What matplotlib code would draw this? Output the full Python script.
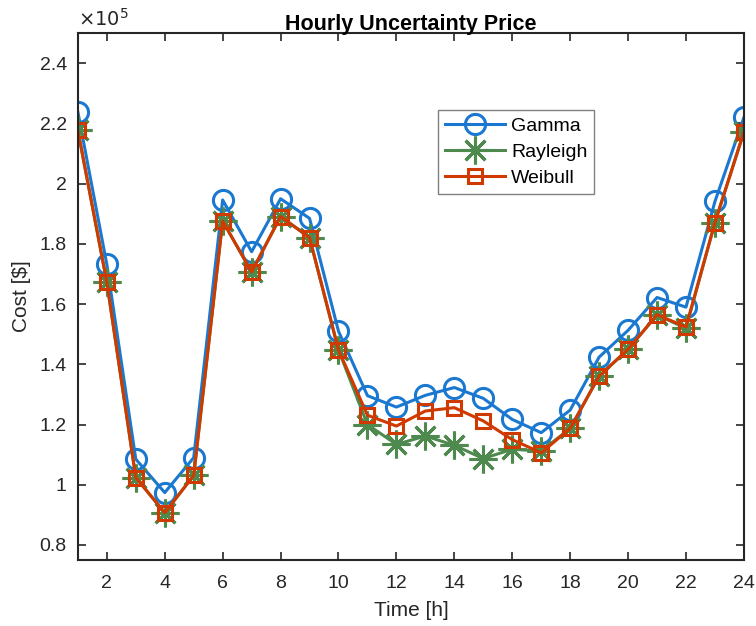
import matplotlib
matplotlib.use('Agg')
import matplotlib.pyplot as plt
from matplotlib.ticker import FuncFormatter

plt.rcParams['font.family'] = ['Liberation Sans', 'DejaVu Sans']

# hourly cost in $
hours = list(range(1, 25))
gamma = [2.238e5, 1.732e5, 1.085e5, 0.974e5, 1.090e5, 1.946e5, 1.774e5, 1.950e5,
         1.885e5, 1.510e5, 1.296e5, 1.258e5, 1.297e5, 1.323e5, 1.287e5, 1.217e5,
         1.173e5, 1.248e5, 1.424e5, 1.513e5, 1.622e5, 1.590e5, 1.941e5, 2.220e5]
rayleigh = [2.177e5, 1.673e5, 1.024e5, 0.907e5, 1.031e5, 1.876e5, 1.707e5, 1.891e5,
            1.821e5, 1.448e5, 1.200e5, 1.134e5, 1.162e5, 1.131e5, 1.087e5, 1.118e5,
            1.112e5, 1.187e5, 1.361e5, 1.450e5, 1.564e5, 1.520e5, 1.871e5, 2.172e5]
weibull = [2.177e5, 1.673e5, 1.024e5, 0.907e5, 1.031e5, 1.876e5, 1.707e5, 1.891e5,
           1.821e5, 1.448e5, 1.231e5, 1.195e5, 1.245e5, 1.256e5, 1.212e5, 1.150e5,
           1.106e5, 1.187e5, 1.361e5, 1.450e5, 1.565e5, 1.524e5, 1.871e5, 2.172e5]
scale = 1e5

fig = plt.figure(figsize=(7.56, 6.26), dpi=100)
ax = fig.add_axes([0.103, 0.1054, 0.881, 0.8416])

ax.plot(hours, [v / scale for v in gamma], color='#1a78d0', lw=2.2, marker='o',
        ms=14.5, mfc='none', mew=2.2, label='Gamma')
ax.plot(hours, [v / scale for v in rayleigh], color='#4e8a4e', lw=2.2, marker=(8, 2, 0),
        ms=20, mew=2.2, label='Rayleigh')
ax.plot(hours, [v / scale for v in weibull], color='#d03a00', lw=2.2, marker='s',
        ms=10.5, mfc='none', mew=2.2, label='Weibull')

ax.set_xlim(1, 24)
ax.set_ylim(0.75, 2.5)
ax.set_xticks(range(2, 25, 2))
ax.set_yticks([0.8, 1.0, 1.2, 1.4, 1.6, 1.8, 2.0, 2.2, 2.4])
ax.yaxis.set_major_formatter(FuncFormatter(lambda v, p: '%g' % round(v, 2)))
ax.tick_params(direction='in', top=True, right=True, length=6, width=1.2,
               labelsize=14, colors='#262626')
ax.tick_params(axis='x', pad=11)
ax.tick_params(axis='y', pad=8)
for s in ax.spines.values():
    s.set_linewidth(1.5)
    s.set_color('#262626')

ax.set_xlabel('Time [h]', fontsize=15, color='#262626', labelpad=6)
ax.set_ylabel('Cost [$]', fontsize=15, color='#262626', labelpad=6)
ax.set_title('Hourly Uncertainty Price', fontsize=15.5, fontweight='bold', pad=2)
ax.text(0.0, 1.006, r'$\times10^{5}$', transform=ax.transAxes, fontsize=14,
        color='#262626', ha='left', va='bottom')

leg = ax.legend(loc='upper left', bbox_to_anchor=(0.541, 0.854), fontsize=14,
                fancybox=False, framealpha=1, edgecolor='#808080', borderpad=0.35,
                handlelength=3.1, handletextpad=0.3, labelspacing=0.45, borderaxespad=0)
leg.get_frame().set_linewidth(1.0)

fig.savefig('out.png', dpi=100)
